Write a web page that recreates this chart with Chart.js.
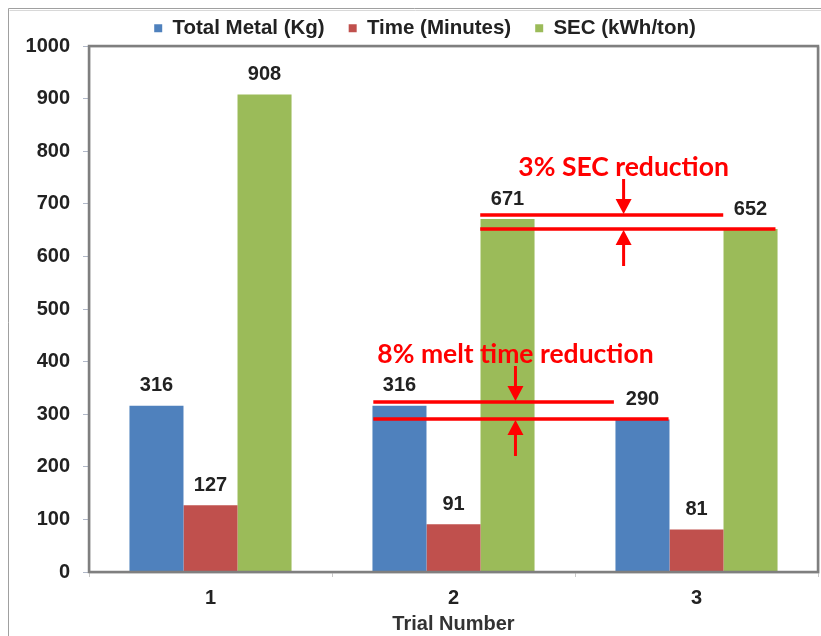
<!DOCTYPE html>
<html>
<head>
<meta charset="utf-8">
<script src="https://cdn.jsdelivr.net/npm/chart.js@4"></script>
<style>
  body { margin: 0; background: #fff; }
  #wrap { width: 821px; height: 636px; }
</style>
</head>
<body>
<div id="wrap"><canvas id="myChart" width="821" height="636"></canvas></div>
<script>
// data
const trials = ['1', '2', '3'];
const totalMetal = [316, 316, 290];
const meltTime = [127, 91, 81];
const sec = [908, 671, 652];
const yTicks = [0, 100, 200, 300, 400, 500, 600, 700, 800, 900, 1000];

const FAMILY = '"Liberation Sans", Arial, sans-serif';

// grey frame round the whole picture + border round the plot area
const framePlugin = {
  id: 'frame',
  afterInit(chart) {
    // keep the legend band short even with wide item spacing
    const fit = chart.legend.fit;
    chart.legend.fit = function () {
      fit.call(this);
      this.height = 52;
    };
    // the original legend sits a little right of centre
    const draw = chart.legend.draw;
    chart.legend.draw = function () {
      this.ctx.save();
      this.ctx.translate(12, 0);
      draw.call(this);
      this.ctx.restore();
    };
  },
  beforeDraw(chart) {
    const ctx = chart.ctx;
    ctx.save();
    ctx.strokeStyle = '#a0a0a0';
    ctx.lineWidth = 1;
    ctx.beginPath();
    ctx.moveTo(8.5, chart.height);
    ctx.lineTo(8.5, 8.5);
    ctx.lineTo(chart.width, 8.5);
    ctx.stroke();
    ctx.strokeStyle = '#d8d8d8';
    ctx.beginPath();
    ctx.moveTo(9.5, 10.5);
    ctx.lineTo(chart.width, 10.5);
    ctx.stroke();
    ctx.restore();
  },
  afterDatasetsDraw(chart) {
    const a = chart.chartArea;
    const ctx = chart.ctx;
    ctx.save();
    ctx.strokeStyle = '#c8c8c8';
    ctx.lineWidth = 1;
    ctx.strokeRect(a.left + 1, a.top + 1, a.right - a.left, a.bottom - a.top);
    ctx.strokeStyle = '#7f7f7f';
    ctx.lineWidth = 2.5;
    ctx.strokeRect(a.left, a.top, a.right - a.left, a.bottom - a.top);
    ctx.restore();
  }
};

// value labels over each bar
const valueLabels = {
  id: 'valueLabels',
  afterDatasetsDraw(chart) {
    const ctx = chart.ctx;
    ctx.save();
    ctx.font = 'bold 20px ' + FAMILY;
    ctx.fillStyle = '#222';
    ctx.textAlign = 'center';
    ctx.textBaseline = 'middle';
    chart.data.datasets.forEach((ds, i) => {
      chart.getDatasetMeta(i).data.forEach((bar, j) => {
        ctx.fillText(ds.data[j], bar.x, bar.y - 20);
      });
    });
    ctx.restore();
  }
};

// red reduction markers: two lines, two arrows and a caption (x in category units)
const reductions = [
  { text: '3% SEC reduction', hi: sec[1], lo: sec[2], x1: 1.11, x2hi: 2.11, x2lo: 2.325, arrowX: 1.70 },
  { text: '8% melt time reduction', hi: totalMetal[1], lo: totalMetal[2], x1: 0.67, x2hi: 1.66, x2lo: 1.885, arrowX: 1.255 }
];

function arrow(ctx, x, yFrom, yTo) {
  const dir = yTo > yFrom ? 1 : -1;
  ctx.beginPath();
  ctx.moveTo(x, yFrom);
  ctx.lineTo(x, yTo - dir * 12);
  ctx.stroke();
  ctx.beginPath();
  ctx.moveTo(x, yTo);
  ctx.lineTo(x - 8, yTo - dir * 15);
  ctx.lineTo(x + 8, yTo - dir * 15);
  ctx.closePath();
  ctx.fill();
}

const reductionPlugin = {
  id: 'reductions',
  afterDraw(chart) {
    const xs = chart.scales.x;
    const ys = chart.scales.y;
    const ctx = chart.ctx;
    ctx.save();
    ctx.strokeStyle = '#ff0000';
    ctx.fillStyle = '#ff0000';
    reductions.forEach(r => {
      const yHi = Math.round(ys.getPixelForValue(r.hi)) - 4;
      const yLo = Math.round(ys.getPixelForValue(r.lo));
      const x1 = xs.getPixelForValue(r.x1);
      ctx.lineWidth = 3.5;
      ctx.beginPath();
      ctx.moveTo(x1, yHi);
      ctx.lineTo(xs.getPixelForValue(r.x2hi), yHi);
      ctx.moveTo(x1, yLo);
      ctx.lineTo(xs.getPixelForValue(r.x2lo), yLo);
      ctx.stroke();
      const ax = xs.getPixelForValue(r.arrowX);
      ctx.lineWidth = 3;
      arrow(ctx, ax, yHi - 36, yHi - 1);
      arrow(ctx, ax, yLo + 37, yLo + 1);
      ctx.font = 'bold 26.5px Lato, "Open Sans", sans-serif';
      ctx.textAlign = 'center';
      ctx.textBaseline = 'middle';
      ctx.fillText(r.text, ax, yHi - 48);
    });
    ctx.restore();
  }
};

const ctx = document.getElementById('myChart').getContext('2d');
new Chart(ctx, {
  type: 'bar',
  data: {
    labels: trials,
    datasets: [
      { label: 'Total Metal (Kg)', data: totalMetal, backgroundColor: '#4f81bd' },
      { label: 'Time (Minutes)', data: meltTime, backgroundColor: '#c0504d' },
      { label: 'SEC (kWh/ton)', data: sec, backgroundColor: '#9bbb59' }
    ]
  },
  options: {
    responsive: false,
    animation: false,
    layout: { padding: { top: -6, left: 8, right: 3, bottom: 0 } },
    datasets: { bar: { categoryPercentage: 0.667, barPercentage: 1.0 } },
    plugins: {
      tooltip: { enabled: false },
      legend: {
        position: 'top',
        labels: {
          font: { family: FAMILY, size: 20.5, weight: 'bold' },
          color: '#222',
          boxWidth: 8,
          boxHeight: 8,
          padding: 24
        }
      }
    },
    scales: {
      x: {
        afterFit(scale) { scale.height = 64; },
        grid: { display: true, drawOnChartArea: false, offset: true, tickLength: 5, color: '#c8c8c8' },
        border: { display: false },
        ticks: { font: { family: FAMILY, size: 20, weight: 'bold' }, color: '#222', padding: 9 },
        title: {
          display: true,
          text: 'Trial Number',
          font: { family: FAMILY, size: 20, weight: 'bold' },
          color: '#333',
          padding: { top: 0, bottom: 0 }
        }
      },
      y: {
        min: 0,
        max: 1000,
        afterBuildTicks(scale) { scale.ticks = yTicks.map(v => ({ value: v })); },
        afterFit(scale) { scale.width = 81; },
        grid: { display: true, drawOnChartArea: false, tickLength: 6, color: '#b0b8c8' },
        border: { display: false },
        ticks: {
          font: { family: FAMILY, size: 20, weight: 'bold' },
          color: '#222',
          padding: 13,
          callback: v => String(v)
        }
      }
    }
  },
  plugins: [framePlugin, valueLabels, reductionPlugin]
});
</script>
</body>
</html>
